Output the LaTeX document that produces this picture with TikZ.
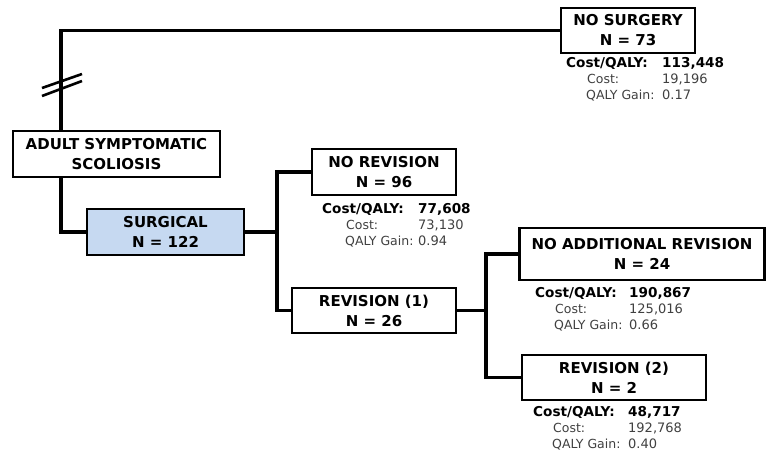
\documentclass[tikz,border=0pt]{standalone}
\usepackage{fontspec}
\setmainfont{DejaVu Sans}
\definecolor{surgblue}{HTML}{C6D9F1}
\definecolor{statgray}{HTML}{404040}
\begin{document}
\begin{tikzpicture}[x=1pt,y=-1pt,
  box/.style={draw=black, line width=2.2pt, fill=white, align=center, inner sep=0pt,
    font=\fontsize{15}{20}\selectfont\bfseries},
  conn/.style={line width=3.3pt},
  brk/.style={line width=2.6pt},
  stathead/.style={anchor=base west, inner sep=0pt, font=\fontsize{13.6}{15}\selectfont\bfseries},
  statlabel/.style={anchor=base west, inner sep=0pt, text=statgray, font=\fontsize{12.5}{13}\selectfont},
  statval/.style={anchor=base west, inner sep=0pt, text=statgray, font=\fontsize{13}{13}\selectfont}]
\useasboundingbox (0,0) rectangle (767,458);

% boxes
\node[box, minimum width=134pt, minimum height=45pt] (nosurg) at (628,30.5) {NO SURGERY\\N = 73};
\node[box, minimum width=207pt, minimum height=46pt] (adult) at (116.5,154) {ADULT SYMPTOMATIC\\SCOLIOSIS};
\node[box, fill=surgblue, minimum width=157pt, minimum height=46pt] (surg) at (165.5,232) {SURGICAL\\N = 122};
\node[box, minimum width=144pt, minimum height=46pt] (norev) at (384,172) {NO REVISION\\N = 96};
\node[box, minimum width=164pt, minimum height=45pt] (rev1) at (374,310.5) {REVISION (1)\\N = 26};
\node[box, minimum width=245pt, minimum height=52pt] (noadd) at (642,254) {NO ADDITIONAL REVISION\\N = 24};
\node[box, minimum width=184pt, minimum height=45pt] (rev2) at (614,377.5) {REVISION (2)\\N = 2};

% junction coordinates
\coordinate (c1) at (61,0);
\coordinate (c2) at (277,232);
\coordinate (c3) at (486,310.5);

% connectors
\draw[conn] (adult.north -| c1) |- (nosurg.west);
\draw[conn] (adult.south -| c1) |- (surg.west);
\draw[conn] (surg.east) -- (surg.east -| c2);
\draw[conn] (norev.west) -| (c2) |- (rev1.west);
\draw[conn] (rev1.east) -- (c3);
\draw[conn] (noadd.west) -| (c3) |- (rev2.west);

% break marks
\coordinate (b1s) at (42,88); \coordinate (b1e) at (82,74);
\coordinate (b2s) at (42,96); \coordinate (b2e) at (82,81);
\draw[brk] (b1s) -- (b1e);
\draw[brk] (b2s) -- (b2e);

% stats: no surgery
\node[stathead] (ns1) at (566,67) {Cost/QALY:};
\node[stathead] (ns1v) at (662,67) {113,448};
\node[statlabel] (ns2) at (587,83) {Cost:};
\node[statval] (ns2v) at (662,83) {19,196};
\node[statlabel] (ns3) at (586,99) {QALY Gain:};
\node[statval] (ns3v) at (662,99) {0.17};

% stats: no revision
\node[stathead] (nr1) at (322,213) {Cost/QALY:};
\node[stathead] (nr1v) at (418,213) {77,608};
\node[statlabel] (nr2) at (346,229) {Cost:};
\node[statval] (nr2v) at (418,229) {73,130};
\node[statlabel] (nr3) at (345,245) {QALY Gain:};
\node[statval] (nr3v) at (418,245) {0.94};

% stats: no additional revision
\node[stathead] (na1) at (535,297) {Cost/QALY:};
\node[stathead] (na1v) at (629,297) {190,867};
\node[statlabel] (na2) at (555,313) {Cost:};
\node[statval] (na2v) at (629,313) {125,016};
\node[statlabel] (na3) at (554,329) {QALY Gain:};
\node[statval] (na3v) at (629,329) {0.66};

% stats: revision (2)
\node[stathead] (r21) at (533,416) {Cost/QALY:};
\node[stathead] (r21v) at (628,416) {48,717};
\node[statlabel] (r22) at (553,432) {Cost:};
\node[statval] (r22v) at (628,432) {192,768};
\node[statlabel] (r23) at (552,448) {QALY Gain:};
\node[statval] (r23v) at (628,448) {0.40};
\end{tikzpicture}
\end{document}
